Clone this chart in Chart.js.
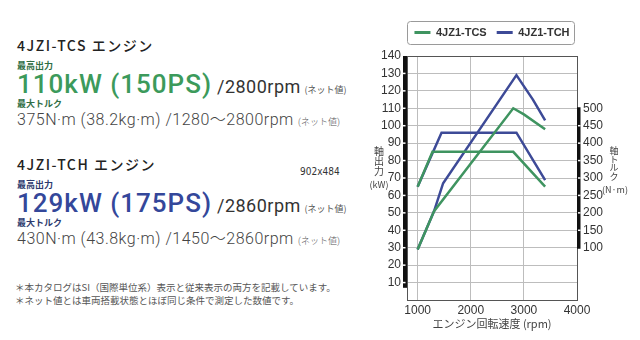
<!DOCTYPE html>
<html>
<head>
<meta charset="utf-8">
<script src="https://cdn.jsdelivr.net/npm/chart.js@4.4.0/dist/chart.umd.min.js"></script>
<style>
body { margin: 0; width: 640px; height: 340px; background: #fff; position: relative; overflow: hidden;
       font-family: "Noto Sans CJK JP", sans-serif; color: #333; }
.t { position: absolute; left: 17px; white-space: nowrap; }
.hd { font-size: 14px; line-height: 16px; font-weight: 500; letter-spacing: 1.5px; color: #222; }
.lb { font-size: 9px; line-height: 10px; font-weight: 700; }
.big { font-family: Roboto, sans-serif; font-size: 26px; line-height: 26px; font-weight: 500; letter-spacing: 1px; }
.rpm { font-family: Roboto, sans-serif; font-size: 18px; font-weight: 400; color: #333; letter-spacing: 0.5px; }
.net { font-size: 9px; color: #555; letter-spacing: 0; }
.tq { font-family: Roboto, "Noto Sans CJK JP", sans-serif; font-size: 16px; line-height: 16px; font-weight: 300; color: #444; letter-spacing: 0.5px; }
.fn { font-size: 9.5px; line-height: 12px; color: #555; left: 15px; }
.ax { position: absolute; font-size: 10px; line-height: 10px; text-align: center; color: #444; }
.ax .u { display: block; font-size: 9px; margin-top: 4px; }
.g { color: #3c9a5b; }
.b { color: #34479a; }
#c { position: absolute; left: 340px; top: 0; }
</style>
</head>
<body>
<div class="t hd" style="top:37px">4JZI-TCS エンジン</div>
<div class="t lb" style="top:61px;color:#2f6e45">最高出力</div>
<div class="t" style="top:71px"><span class="big g">110kW (150PS)</span><span class="rpm"> /2800rpm</span> <span class="net">(ネット値)</span></div>
<div class="t lb" style="top:99px;color:#2f6e45">最大トルク</div>
<div class="t tq" style="top:112px">375N·m (38.2kg·m) /1280～2800rpm <span class="net">(ネット値)</span></div>

<div class="t hd" style="top:156px">4JZI-TCH エンジン</div>
<div class="t" style="left:300px;top:166px;font-family:'DejaVu Sans Condensed',sans-serif;font-size:10px;color:#333">902x484</div>
<div class="t lb" style="top:180px;color:#2d3a6e">最高出力</div>
<div class="t" style="top:190px"><span class="big b">129kW (175PS)</span><span class="rpm"> /2860rpm</span> <span class="net">(ネット値)</span></div>
<div class="t lb" style="top:218px;color:#2d3a6e">最大トルク</div>
<div class="t tq" style="top:231px">430N·m (43.8kg·m) /1450～2860rpm <span class="net">(ネット値)</span></div>

<div class="t fn" style="top:281px">＊本カタログはSI（国際単位系）表示と従来表示の両方を記載しています。</div>
<div class="t fn" style="top:294px">＊ネット値とは車両搭載状態とほぼ同じ条件で測定した数値です。</div>

<canvas id="c" width="300" height="340"></canvas>

<div class="ax" style="left:369px;top:146px;width:20px">軸<br>出<br>力<span class="u">(kW)</span></div>
<div class="ax" style="left:602px;top:147px;width:24px;font-size:9px;line-height:8.7px">軸<br>ト<br>ル<br>ク<span class="u">(N·m)</span></div>

<script>
// axes
const rpmTicks = [1000, 2000, 3000, 4000]
const kwTicks = [10, 20, 30, 40, 50, 60, 70, 80, 90, 100, 110, 120, 130, 140]
const nmTicks = [100, 125, 150, 175, 200, 225, 250, 275, 300, 325, 350, 375, 400, 425, 450, 475, 500]
const seriesNames = ['4JZ1-TCS', '4JZ1-TCH']

// 4JZ1-TCS (green)
const tcsPowerRpm = [1000, 1310, 2800, 3000, 3400]
const tcsPowerKw = [29, 51, 110, 106.5, 98]
const tcsTorqueRpm = [1000, 1280, 2800, 3400]
const tcsTorqueNm = [275, 375, 375, 275]

// 4JZ1-TCH (blue)
const tchPowerRpm = [1000, 1310, 1480, 2860, 3170, 3400]
const tchPowerKw = [29, 51, 67, 129, 115, 103]
const tchTorqueRpm = [1000, 1450, 2860, 3400]
const tchTorqueNm = [275, 430, 430, 294]

const GREEN = '#3f9460'
const BLUE = '#3d4a97'
const GRID = '#bdbdbd'
const EDGE = '#555'

const toPoints = (xs, ys) => xs.map((x, i) => ({ x: x, y: ys[i] }))

const lineSet = (label, color, data, axis) => ({
    label: label,
    data: data,
    yAxisID: axis,
    borderColor: color,
    backgroundColor: color,
    borderWidth: 2.5,
    pointRadius: 0,
    fill: false,
    tension: 0
})

// black ruler bars along both y axes + box round the legend
const rulerBars = {
    id: 'rulerBars',
    beforeLayout(chart) {
        // leave some room under the legend
        const lg = chart.legend
        if (lg && !lg._padded) {
            const fit = lg.fit
            lg.fit = function () { fit.call(this); this.height += 8 }
            lg._padded = true
        }
    },
    afterDraw(chart) {
        const { ctx, chartArea: a, scales } = chart
        ctx.save()
        ctx.fillStyle = '#111'
        let top = scales.y.getPixelForValue(140)
        let bot = scales.y.getPixelForValue(7)
        ctx.fillRect(a.left - 4, top, 4, bot - top)
        top = scales.y2.getPixelForValue(503)
        bot = scales.y2.getPixelForValue(97)
        ctx.fillRect(a.right, top, 3.5, bot - top)

        ctx.fillStyle = '#fff'
        kwTicks.slice(0, -1).forEach(v => {
            const y = scales.y.getPixelForValue(v)
            ctx.fillRect(a.left - 4, y - 0.75, 2.5, 1.5)
        })
        nmTicks.filter(v => v % 50 === 0 && v > 100 && v < 500).forEach(v => {
            const y = scales.y2.getPixelForValue(v)
            ctx.fillRect(a.right + 1, y - 0.75, 2.5, 1.5)
        })

        const boxes = chart.legend.legendHitBoxes
        if (boxes && boxes.length) {
            const l = Math.min(...boxes.map(b => b.left)) - 7
            const r = Math.max(...boxes.map(b => b.left + b.width)) + 5
            const t = boxes[0].top - 6
            const h = boxes[0].height + 12
            ctx.strokeStyle = '#9a9a9a'
            ctx.lineWidth = 1
            ctx.beginPath()
            ctx.roundRect(Math.round(l) + 0.5, Math.round(t) + 0.5, Math.round(r - l), Math.round(h), 3)
            ctx.stroke()
        }
        ctx.restore()
    }
}

Chart.defaults.font.family = '"Liberation Sans", Arial, sans-serif'
Chart.defaults.color = '#333'

const myChart = new Chart(document.getElementById('c'), {
    type: 'line',
    data: {
        datasets: [
            lineSet(seriesNames[0], GREEN, toPoints(tcsPowerRpm, tcsPowerKw), 'y'),
            lineSet(seriesNames[0], GREEN, toPoints(tcsTorqueRpm, tcsTorqueNm), 'y2'),
            lineSet(seriesNames[1], BLUE, toPoints(tchPowerRpm, tchPowerKw), 'y'),
            lineSet(seriesNames[1], BLUE, toPoints(tchTorqueRpm, tchTorqueNm), 'y2')
        ]
    },
    options: {
        responsive: false,
        devicePixelRatio: 1,
        animation: false,
        layout: { padding: { left: 37, right: 33, top: 17, bottom: 0 } },
        plugins: {
            tooltip: { enabled: false },
            legend: {
                position: 'top',
                labels: {
                    boxWidth: 16,
                    boxHeight: 3,
                    padding: 10,
                    color: '#333',
                    font: { size: 11, weight: 'bold' },
                    filter: item => item.datasetIndex % 2 === 0,
                    generateLabels: chart => Chart.defaults.plugins.legend.labels.generateLabels(chart)
                        .map(l => ({ ...l, lineWidth: 0, fillStyle: l.strokeStyle }))
                }
            }
        },
        scales: {
            x: {
                type: 'linear',
                min: 800,
                max: 4000,
                afterBuildTicks: s => { s.ticks = rpmTicks.map(v => ({ value: v })) },
                afterFit: s => { s.height = 40 },
                ticks: { font: { size: 12 }, padding: 3, color: '#333', callback: v => String(v) },
                grid: { drawTicks: false, color: c => c.tick && c.tick.value === 4000 ? EDGE : GRID },
                border: { color: EDGE, width: 1 },
                title: {
                    display: true,
                    text: 'エンジン回転速度 (rpm)',
                    font: { family: '"Noto Sans CJK JP", sans-serif', size: 11 },
                    color: '#444',
                    padding: { top: 0, bottom: 10 }
                }
            },
            y: {
                position: 'left',
                min: 0,
                max: 140,
                afterBuildTicks: s => { s.ticks = kwTicks.map(v => ({ value: v })) },
                afterFit: s => { s.width = 30 },
                ticks: { font: { size: 12 }, padding: 6, color: '#333' },
                grid: { drawTicks: false, color: c => c.tick && c.tick.value === 140 ? EDGE : GRID },
                border: { color: EDGE, width: 1 }
            },
            y2: {
                position: 'right',
                min: -50,
                max: 650,
                afterBuildTicks: s => { s.ticks = nmTicks.map(v => ({ value: v })) },
                afterFit: s => { s.width = 30 },
                ticks: {
                    font: { size: 12 },
                    padding: 6,
                    color: '#333',
                    callback: v => (v % 50 === 0 ? v : '')
                },
                grid: { drawTicks: false, color: c => c.tick && c.tick.value % 50 !== 0 ? GRID : 'rgba(0,0,0,0)' },
                border: { color: EDGE, width: 1 }
            }
        }
    },
    plugins: [rulerBars]
})
</script>
</body>
</html>
